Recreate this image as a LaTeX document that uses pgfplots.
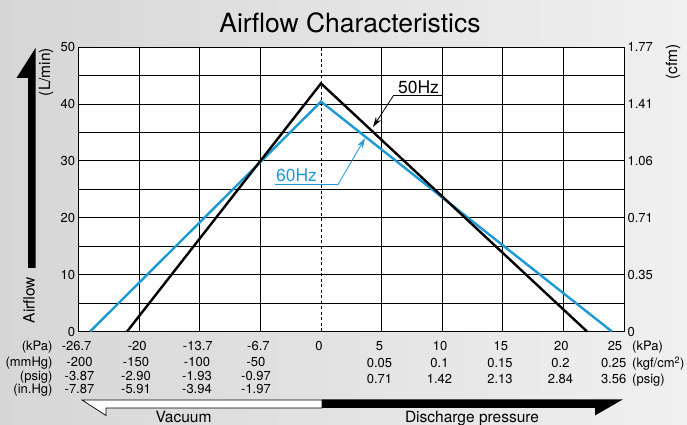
\documentclass[border=0pt]{standalone}
\usepackage{pgfplots}
\pgfplotsset{compat=1.18}
\usetikzlibrary{arrows.meta}
\usepackage{fontspec}
\setmainfont{TeX Gyre Heros}
\definecolor{hzblue}{RGB}{28,154,214}
\definecolor{bgl}{RGB}{214,214,214}
\definecolor{bgr}{RGB}{240,240,240}
\newcommand\lf{\fontsize{13}{15}\selectfont}
\newcommand\af{\fontsize{15.5}{18}\selectfont}
\begin{document}
\begin{tikzpicture}[x=1pt,y=1pt]
\shade[left color=bgl,right color=bgr] (0,0) rectangle (687,425);
% main axis (L/min)
\begin{axis}[
  at={(78.6pt,93.5pt)}, anchor=south west,
  scale only axis, width=545.4pt, height=284.5pt,
  xmin=-4, xmax=5, ymin=0, ymax=50,
  axis background/.style={fill=white},
  xtick={-4,-3,-2,-1,1,2,3,4,5},
  xticklabels={-26.7,-20,-13.7,-6.7,5,10,15,20,25\hspace*{14pt}},
  extra x ticks={0}, extra x tick labels={0},
  extra x tick style={grid style={black,line width=0.8pt,dash pattern=on 3pt off 2.5pt}},
  ytick={0,10,...,50}, yticklabels={0,10,20,30,40,50},
  minor ytick={5,15,...,45},
  grid=both,
  major grid style={black,line width=0.8pt},
  minor grid style={black,line width=0.8pt},
  major tick length=0pt, minor tick length=0pt,
  axis line style={black,line width=0.9pt},
  tick label style={font=\lf},
  xticklabel style={anchor=base,yshift=-19.5pt,xshift=-2pt},
  clip=false,
]
\addplot[hzblue, line width=2.4pt, line join=miter] coordinates {(-3.81,0) (0,40.4) (4.80,0)};
\addplot[black, line width=2.4pt, line join=miter] coordinates {(-3.20,0) (0,43.6) (4.39,0)};
\end{axis}
% right axis (cfm)
\begin{axis}[
  at={(78.6pt,93.5pt)}, anchor=south west,
  scale only axis, width=545.4pt, height=284.5pt,
  xmin=-4, xmax=5, ymin=0, ymax=50,
  axis x line=none, axis y line*=right,
  ytick={0,10,...,50}, yticklabels={0,0.35,0.71,1.06,1.41,1.77},
  major tick length=0pt,
  axis line style={black,line width=0.9pt},
  tick label style={font=\lf},
  yticklabel style={anchor=west},
]
\end{axis}
% title
\node[anchor=base, font=\fontsize{26.5}{30}\selectfont] at (350,392) {Airflow Characteristics};
% axis labels
\node[rotate=90, font=\af] at (46,353) {(L/min)};
\node[rotate=90, font=\af] at (673,363) {(cfm)};
\node[rotate=90, font=\af] at (29,125) {Airflow};
% airflow arrow
\fill[black] (35.5,377) -- (16.5,347) -- (28,347) -- (28,157) -- (35.5,157) -- cycle;
% row labels left
\begin{scope}[font=\lf]
\node[anchor=base east] at (56,74) {(kPa)};
\node[anchor=base east] at (56,58.9) {(mmHg)};
\node[anchor=base east] at (56,44.9) {(psig)};
\node[anchor=base east] at (56,31.4) {(in.Hg)};
\node[anchor=base] at (79.5,58.9) {-200};
\node[anchor=base] at (136,58.9) {-150};
\node[anchor=base] at (197,58.9) {-100};
\node[anchor=base] at (256,58.9) {-50};
\node[anchor=base] at (79.5,44.9) {-3.87};
\node[anchor=base] at (136,44.9) {-2.90};
\node[anchor=base] at (197,44.9) {-1.93};
\node[anchor=base] at (256,44.9) {-0.97};
\node[anchor=base] at (79.5,31.4) {-7.87};
\node[anchor=base] at (136,31.4) {-5.91};
\node[anchor=base] at (197,31.4) {-3.94};
\node[anchor=base] at (256,31.4) {-1.97};
% right side rows
\node[anchor=base] at (379.5,57.4) {0.05};
\node[anchor=base] at (439.5,57.4) {0.1};
\node[anchor=base] at (500,57.4) {0.15};
\node[anchor=base] at (560.5,57.4) {0.2};
\node[anchor=base east,inner xsep=0pt] at (626.5,57.4) {0.25};
\node[anchor=base] at (379.5,41.4) {0.71};
\node[anchor=base] at (439.5,41.4) {1.42};
\node[anchor=base] at (500,41.4) {2.13};
\node[anchor=base] at (560.5,41.4) {2.84};
\node[anchor=base east,inner xsep=0pt] at (626.5,41.4) {3.56};
\node[anchor=base west,inner xsep=0pt] at (632,74) {(kPa)};
\node[anchor=base west,inner xsep=0pt] at (632,57.4) {(kgf/cm\textsuperscript{2})};
\node[anchor=base west,inner xsep=0pt] at (632,41.4) {(psig)};
\end{scope}
% vacuum / discharge arrows
\filldraw[fill=white, draw=black, line width=0.7pt] (82,25) -- (322,25) -- (322,17) -- (106,17) -- (106,9.5) -- cycle;
\fill[black] (322,25.7) -- (623,25.7) -- (595,9.5) -- (595,17) -- (322,17) -- cycle;
\node[anchor=base, font=\af] at (183.5,2) {Vacuum};
\node[anchor=base, font=\af] at (472,2) {Discharge pressure};
% annotations
\node[anchor=base, font=\fontsize{17.5}{20}\selectfont] at (418.5,331) {50Hz};
\draw[black, line width=0.8pt, -{Stealth[length=10pt,width=6pt]}] (442,329.5) -- (393.5,329.5) -- (373,298);
\node[anchor=base, font=\fontsize{17.5}{20}\selectfont, text=hzblue] at (296.5,243) {60Hz};
\draw[hzblue, line width=0.8pt, -{Stealth[length=10pt,width=6pt]}] (275,240.5) -- (338,240.5) -- (365,286.7);
\pgfresetboundingbox
\useasboundingbox (0,0) rectangle (687,425);
\end{tikzpicture}
\end{document}
